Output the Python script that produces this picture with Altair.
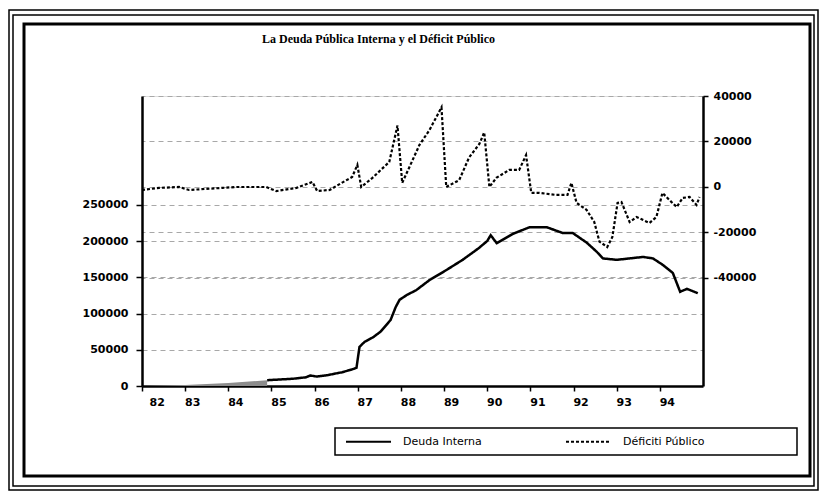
import altair as alt
import pandas as pd

# ---------------- data ----------------
deuda_anio = [82.0, 83.0, 84.0, 84.9, 85.2, 85.5, 85.8, 85.9, 86.05, 86.3, 86.64, 86.87,
              86.97, 87.04, 87.16, 87.35, 87.53, 87.76, 87.88, 87.97, 88.15, 88.35, 88.66,
              89.0, 89.43, 89.8, 90.0, 90.08, 90.22, 90.6, 90.98, 91.38, 91.75, 91.98,
              92.3, 92.54, 92.68, 93.0, 93.3, 93.61, 93.84, 94.07, 94.3, 94.47, 94.63, 94.88]
deuda_val = [0, 1500, 4000, 8000, 9000, 10000, 12000, 14500, 13000, 15000, 19000, 23000,
             25000, 54000, 61000, 67000, 75000, 91000, 109000, 119000, 126000, 132000, 146000,
             158000, 174000, 190000, 200000, 208000, 197000, 210000, 219000, 219000, 211000, 211000,
             198000, 185000, 176000, 174000, 176000, 178000, 176000, 167000, 156000, 130000, 134000, 128000]

deficit_anio = [82.0, 82.4, 82.86, 83.09, 83.86, 84.18, 84.88, 85.11, 85.58, 85.95, 86.06,
                86.35, 86.6, 86.87, 86.99, 87.08, 87.34, 87.73, 87.92, 88.03, 88.43, 88.66,
                88.94, 89.05, 89.35, 89.58, 89.82, 89.93, 90.05, 90.21, 90.51, 90.74, 90.9,
                91.02, 91.21, 91.6, 91.86, 91.95, 92.07, 92.3, 92.48, 92.6, 92.78, 92.9,
                93.02, 93.11, 93.3, 93.46, 93.76, 93.92, 94.06, 94.22, 94.39, 94.53, 94.69,
                94.85, 94.92]
deficit_val = [-1300, -400, 0, -1300, -400, 0, 0, -1800, -400, 2200, -1800,
               -1300, 1500, 4400, 9700, 0, 4000, 11000, 27000, 1800, 18500, 25000,
               35000, 0, 3000, 13000, 19000, 24000, 0, 4000, 7500, 7500, 14000,
               -2600, -2600, -3500, -3500, 1800, -7000, -10000, -15400, -24000, -26400, -22000,
               -7000, -6600, -15400, -13200, -15800, -13200, -2600, -5700, -8800, -4800, -4400,
               -7900, -4400]

series = ["Deuda Interna", "Déficiti Público"]
x_ticks = list(range(82, 95))
left_ticks = [0, 50000, 100000, 150000, 200000, 250000]
right_ticks = [-40000, -20000, 0, 20000, 40000]
title_text = "La Deuda Pública Interna y el Déficit Público"

df_deuda = pd.DataFrame({"anio": deuda_anio, "valor": deuda_val, "serie": series[0]})
df_deficit = pd.DataFrame({"anio": deficit_anio, "valor": deficit_val, "serie": series[1]})

LABEL_FONT = "DejaVu Sans"

x_enc = alt.X(
    "anio:Q",
    scale=alt.Scale(domain=[82, 95], nice=False, zero=False),
    axis=alt.Axis(values=x_ticks, format="d", title=None, grid=False,
                  domainColor="black", domainWidth=2.5, tickColor="black",
                  tickSize=5, tickWidth=1.5, labelPadding=5, labelOffset=7,
                  labelFont=LABEL_FONT, labelFontSize=11, labelFontWeight="bold",
                  labelColor="black"),
)

dash_enc = alt.StrokeDash(
    "serie:N",
    scale=alt.Scale(domain=series, range=[[1, 0], [3, 2]]),
    legend=alt.Legend(orient="none", legendX=203, legendY=322, direction="horizontal",
                      title=None, symbolType="stroke", symbolSize=2025,
                      symbolStrokeWidth=2, symbolStrokeColor="black",
                      labelFont=LABEL_FONT, labelFontSize=11, labelColor="black",
                      labelOffset=11, columnPadding=80, padding=0),
)

y_left = alt.Y(
    "valor:Q",
    scale=alt.Scale(domain=[0, 400000], nice=False),
    axis=alt.Axis(orient="left", values=left_ticks, format="d", title=None,
                  grid=True, gridColor="#a8a8a8", gridDash=[5, 4], gridWidth=1,
                  domainColor="black", domainWidth=2.5, tickColor="black",
                  tickSize=6, tickWidth=1.5, labelPadding=8,
                  labelFont=LABEL_FONT, labelFontSize=11, labelFontWeight="bold",
                  labelColor="black"),
)

y_right = alt.Y(
    "valor:Q",
    scale=alt.Scale(domain=[-87500, 40000], nice=False, zero=False),
    axis=alt.Axis(orient="right", values=right_ticks, title=None,
                  labelExpr="'' + datum.value",
                  grid=True, gridColor="#a8a8a8", gridDash=[5, 4], gridWidth=1,
                  domainColor="black", domainWidth=2.5, tickColor="black",
                  tickSize=5, tickWidth=1.5, labelPadding=5,
                  labelFont=LABEL_FONT, labelFontSize=11, labelFontWeight="bold",
                  labelColor="black"),
)

area_early = alt.Chart(df_deuda).transform_filter("datum.anio <= 84.9").mark_area(
    color="#8c8c8c").encode(x=x_enc, y=y_left)

line_deuda = alt.Chart(df_deuda).transform_filter("datum.anio >= 84.9").mark_line(
    color="black", strokeWidth=2.5).encode(x=x_enc, y=y_left, strokeDash=dash_enc)

line_deficit = alt.Chart(df_deficit).mark_line(
    color="black", strokeWidth=2.2).encode(x=x_enc, y=y_right, strokeDash=dash_enc)

left_layer = alt.layer(area_early, line_deuda)

# decorative frames (outside the plot area) and legend box
one = alt.Data(values=[{"k": 1}])


def frame(x1, x2, y1, y2, w):
    return alt.Chart(one).mark_rect(fill=None, stroke="black", strokeWidth=w).encode(
        x=alt.value(x1), x2=alt.value(x2), y=alt.value(y1), y2=alt.value(y2))


frames = [
    frame(-133, 676, -86, 394, 1.5),
    frame(-129, 672, -81, 390, 1.5),
    frame(-118, 668, -72, 380, 3),
    frame(193, 655, 332, 359, 1.5),
]

chart = alt.layer(left_layer, line_deficit, *frames).resolve_scale(
    y="independent"
).properties(
    width=561,
    height=290,
    padding={"left": 134, "top": 88, "right": 116, "bottom": 106},
    autosize=alt.AutoSizeParams(type="none"),
    title=alt.Title(title_text, font="Liberation Serif", fontSize=12, fontWeight="bold",
                    color="black", anchor="start", frame="group", dx=120, offset=-37),
).configure_view(stroke="black", strokeWidth=2).configure(background="white")

chart.save("out.html", embed_options={"renderer": "svg", "actions": False})
